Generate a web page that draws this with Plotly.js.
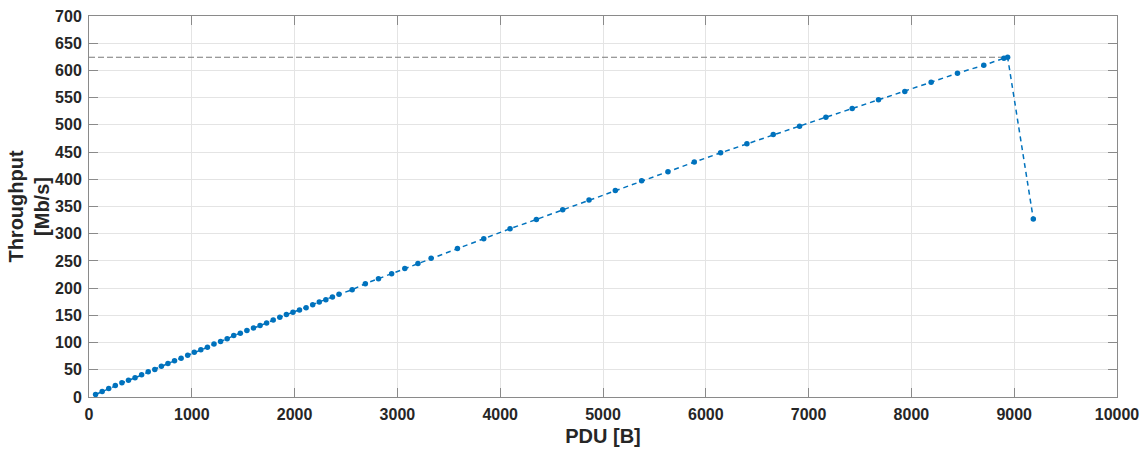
<!DOCTYPE html>
<html>
<head>
<meta charset="utf-8">
<script src="https://cdn.plot.ly/plotly-3.0.1.min.js"></script>
<style>
  html, body { margin: 0; padding: 0; background: #fff; }
  #chart { width: 1146px; height: 449px; }
</style>
</head>
<body>
<div id="chart"></div>
<script>
// PDU size [B]
const pdu = [
  64, 128, 192, 256, 320, 384, 448, 512, 576, 640,
  704, 768, 832, 896, 960, 1024, 1088, 1152, 1216, 1280,
  1344, 1408, 1472, 1536, 1600, 1664, 1728, 1792, 1856, 1920,
  1984, 2048, 2112, 2176, 2240, 2304, 2368, 2432,
  2560, 2688, 2816, 2944, 3072, 3200, 3328,
  3584, 3840, 4096, 4352, 4608, 4864, 5120, 5376, 5632, 5888,
  6144, 6400, 6656, 6912, 7168, 7424, 7680, 7936, 8192, 8448,
  8704, 8900, 8936, 9186
];
// Throughput [Mb/s]
const throughput = [
  4.6, 10.1, 15.6, 21.1, 26.0, 30.8, 35.2, 40.7, 46.2, 50.5,
  56.5, 61.5, 66.4, 71.2, 76.7, 82.2, 86.6, 91.4, 97.6, 101.8,
  106.8, 112.8, 117.1, 122.0, 126.9, 131.2, 136.1, 141.5, 146.4, 151.4,
  155.6, 160.0, 164.2, 169.7, 174.7, 178.9, 183.9, 188.6,
  197.2, 208.3, 217.4, 226.6, 236.3, 245.5, 254.7,
  273.0, 290.8, 309.2, 326.2, 344.0, 361.8, 379.4, 397.2, 413.8, 431.6,
  448.6, 465.1, 482.2, 497.6, 514.1, 529.9, 545.9, 561.1, 578.3, 594.9,
  609.5, 622.4, 624.2, 327.0
];
const xTicks = [0, 1000, 2000, 3000, 4000, 5000, 6000, 7000, 8000, 9000, 10000];
const yTicks = [0, 50, 100, 150, 200, 250, 300, 350, 400, 450, 500, 550, 600, 650, 700];

const peakVal = Math.max(...throughput);
const peakPdu = pdu[throughput.indexOf(peakVal)];

const blue = '#0072BD';
const textCol = '#262626';
const axisCol = '#8a8a8a';
const gridCol = '#e4e4e4';
const fontFam = 'Liberation Sans, Arial, Helvetica, sans-serif';

const traces = [
  {
    x: [0, peakPdu], y: [peakVal, peakVal],
    mode: 'lines', type: 'scatter',
    line: { color: '#7a7a7a', width: 1.2, dash: '6px,3px' },
    hoverinfo: 'skip', showlegend: false
  },
  {
    x: pdu, y: throughput,
    mode: 'lines+markers', type: 'scatter',
    line: { color: blue, width: 1.5, dash: '5px,4px' },
    marker: { color: blue, size: 5.5 },
    showlegend: false
  }
];

const axisCommon = {
  showline: true, linecolor: axisCol, linewidth: 1, mirror: 'ticks',
  ticks: 'inside', ticklen: 9, tickwidth: 1, tickcolor: axisCol,
  showgrid: true, gridcolor: gridCol, gridwidth: 1,
  zeroline: false,
  tickfont: { family: fontFam, size: 16, color: textCol, weight: 'bold' }
};

const layout = {
  width: 1146, height: 449,
  margin: { l: 89, r: 29, t: 16, b: 52, pad: 0 },
  paper_bgcolor: '#ffffff', plot_bgcolor: '#ffffff',
  font: { family: fontFam, color: textCol },
  xaxis: Object.assign({}, axisCommon, {
    range: [0, 10000], tickvals: xTicks, ticktext: xTicks.map(String),
    title: { text: '<b>PDU [B]</b>', font: { family: fontFam, size: 20, color: textCol }, standoff: 6 },
    ticklabelstandoff: 3
  }),
  yaxis: Object.assign({}, axisCommon, {
    range: [0, 700], tickvals: yTicks, ticktext: yTicks.map(String),
    title: { text: '<b>Throughput<br>[Mb/s]</b>', font: { family: fontFam, size: 20, color: textCol }, standoff: 0 },
    ticklabelstandoff: 3
  })
};

Plotly.newPlot('chart', traces, layout, { displayModeBar: false, staticPlot: true });
</script>
</body>
</html>
